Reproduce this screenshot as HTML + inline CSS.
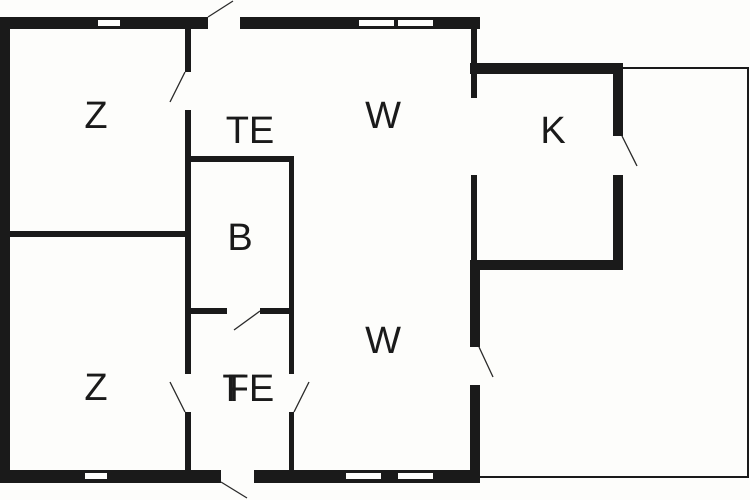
<!DOCTYPE html>
<html><head><meta charset="utf-8"><style>
html,body{margin:0;padding:0;background:#fdfdfb;}
svg{display:block}
text{font-family:"Liberation Sans",sans-serif;font-size:38px;fill:#1a1a1a;text-anchor:middle}
</style></head><body>
<svg width="750" height="500" viewBox="0 0 750 500" xmlns="http://www.w3.org/2000/svg">
<rect width="750" height="500" fill="#fdfdfb"/>
<!-- outer thin outline -->
<polyline points="620,68 748,68 748,477 480,477" fill="none" stroke="#1a1a1a" stroke-width="2"/>
<g fill="#1a1a1a">
<rect x="0" y="17" width="208" height="12"/>
<rect x="240" y="17" width="240" height="12"/>
<rect x="0" y="17" width="10" height="466"/>
<rect x="0" y="470" width="221" height="13"/>
<rect x="254" y="470" width="226" height="13"/>
<rect x="470" y="17" width="10" height="12"/>
<rect x="471" y="17" width="6" height="81"/>
<rect x="471" y="175" width="6" height="90"/>
<rect x="470" y="260" width="10" height="87"/>
<rect x="470" y="385" width="10" height="98"/>
<rect x="470" y="63" width="153" height="11"/>
<rect x="613" y="63" width="10" height="73"/>
<rect x="613" y="175" width="10" height="95"/>
<rect x="470" y="260" width="153" height="10"/>
<rect x="185" y="17" width="6" height="55"/>
<rect x="185" y="110" width="6" height="264"/>
<rect x="185" y="412" width="6" height="65"/>
<rect x="10" y="231" width="178" height="6"/>
<rect x="185" y="156" width="109" height="6"/>
<rect x="289" y="156" width="5" height="218"/>
<rect x="289" y="412" width="5" height="65"/>
<rect x="185" y="308" width="42" height="6"/>
<rect x="260" y="308" width="34" height="6"/>
</g>
<g fill="#fdfdfb">
<rect x="98" y="20" width="22" height="6"/>
<rect x="359" y="20" width="35" height="6"/>
<rect x="398" y="20" width="35" height="6"/>
<rect x="85" y="473" width="22" height="6"/>
<rect x="346" y="473" width="35" height="6"/>
<rect x="398" y="473" width="35" height="6"/>
</g>
<g stroke="#2a2a2a" stroke-width="1.3">
<line x1="208" y1="17" x2="233" y2="1"/>
<line x1="185" y1="72" x2="170" y2="102"/>
<line x1="260" y1="311" x2="234" y2="330"/>
<line x1="185" y1="412" x2="170" y2="382"/>
<line x1="294" y1="412" x2="309" y2="382"/>
<line x1="221" y1="482" x2="247" y2="498"/>
<line x1="479" y1="347" x2="493" y2="377"/>
<line x1="622" y1="136" x2="637" y2="166"/>
</g>
<text x="96" y="128">Z</text>
<text x="250" y="143">TE</text>
<text x="383" y="128">W</text>
<text x="240" y="250">B</text>
<text x="553" y="143">K</text>
<text x="96" y="400">Z</text>
<text x="383" y="353">W</text>
<text x="234" y="401">T</text>
<text x="250" y="401">FE</text>
</svg>
</body></html>
